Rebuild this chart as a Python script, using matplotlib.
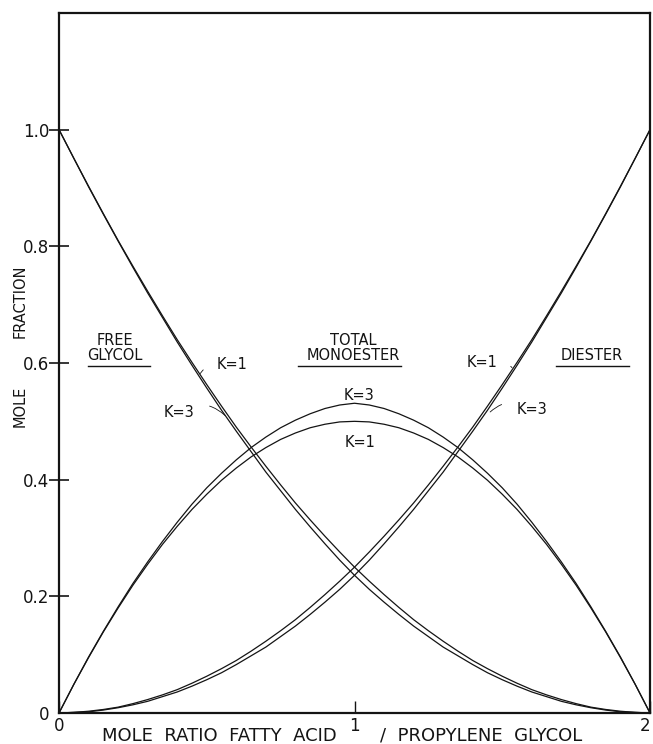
import matplotlib.pyplot as plt

plt.rcParams['font.family'] = ['DejaVu Sans']

# mole ratio fatty acid / propylene glycol
ratio = [0.00, 0.05, 0.10, 0.15, 0.20, 0.25, 0.30, 0.35, 0.40, 0.45,
         0.50, 0.55, 0.60, 0.65, 0.70, 0.75, 0.80, 0.85, 0.90, 0.95,
         1.00, 1.05, 1.10, 1.15, 1.20, 1.25, 1.30, 1.35, 1.40, 1.45,
         1.50, 1.55, 1.60, 1.65, 1.70, 1.75, 1.80, 1.85, 1.90, 1.95, 2.00]

# K = 1
glycol_k1 = [1.000, 0.951, 0.903, 0.856, 0.810, 0.766, 0.723, 0.681, 0.640, 0.601,
             0.563, 0.526, 0.490, 0.456, 0.423, 0.391, 0.360, 0.331, 0.303, 0.276,
             0.250, 0.226, 0.203, 0.181, 0.160, 0.141, 0.123, 0.106, 0.090, 0.076,
             0.063, 0.051, 0.040, 0.031, 0.023, 0.016, 0.010, 0.006, 0.003, 0.001, 0.000]
mono_k1 = [0.000, 0.049, 0.095, 0.139, 0.180, 0.219, 0.255, 0.289, 0.320, 0.349,
           0.375, 0.399, 0.420, 0.439, 0.455, 0.469, 0.480, 0.489, 0.495, 0.499,
           0.500, 0.499, 0.495, 0.489, 0.480, 0.469, 0.455, 0.439, 0.420, 0.399,
           0.375, 0.349, 0.320, 0.289, 0.255, 0.219, 0.180, 0.139, 0.095, 0.049, 0.000]
diester_k1 = [0.000, 0.001, 0.003, 0.006, 0.010, 0.016, 0.023, 0.031, 0.040, 0.051,
              0.063, 0.076, 0.090, 0.106, 0.123, 0.141, 0.160, 0.181, 0.203, 0.226,
              0.250, 0.276, 0.303, 0.331, 0.360, 0.391, 0.423, 0.456, 0.490, 0.526,
              0.563, 0.601, 0.640, 0.681, 0.723, 0.766, 0.810, 0.856, 0.903, 0.951, 1.000]

# K = 3
glycol_k3 = [1.000, 0.951, 0.902, 0.855, 0.809, 0.764, 0.720, 0.678, 0.636, 0.596,
             0.557, 0.519, 0.483, 0.448, 0.413, 0.381, 0.349, 0.319, 0.290, 0.262,
             0.236, 0.212, 0.190, 0.169, 0.149, 0.131, 0.113, 0.098, 0.083, 0.069,
             0.057, 0.046, 0.036, 0.028, 0.020, 0.014, 0.009, 0.005, 0.002, 0.001, 0.000]
mono_k3 = [0.000, 0.049, 0.096, 0.140, 0.182, 0.222, 0.259, 0.294, 0.327, 0.358,
           0.386, 0.411, 0.434, 0.455, 0.473, 0.489, 0.502, 0.513, 0.522, 0.528,
           0.531, 0.528, 0.522, 0.513, 0.502, 0.489, 0.473, 0.455, 0.434, 0.411,
           0.386, 0.358, 0.327, 0.294, 0.259, 0.222, 0.182, 0.140, 0.096, 0.049, 0.000]
diester_k3 = [0.000, 0.001, 0.002, 0.005, 0.009, 0.014, 0.020, 0.028, 0.036, 0.046,
              0.057, 0.069, 0.083, 0.098, 0.113, 0.131, 0.149, 0.169, 0.190, 0.212,
              0.236, 0.262, 0.290, 0.319, 0.349, 0.381, 0.413, 0.448, 0.483, 0.519,
              0.557, 0.596, 0.636, 0.678, 0.720, 0.764, 0.809, 0.855, 0.902, 0.951, 1.000]

y_ticks = [0, 0.2, 0.4, 0.6, 0.8, 1.0]
y_labels = ['0', '0.2', '0.4', '0.6', '0.8', '1.0']
x_ticks = [0, 1, 2]
x_labels = ['0', '1', '2']

INK = '#141414'

fig = plt.figure(figsize=(6.53, 7.44), dpi=100)
ax = fig.add_axes([0.0904, 0.0417, 0.905, 0.9408])

for series in (glycol_k1, glycol_k3, mono_k1, mono_k3, diester_k1, diester_k3):
    ax.plot(ratio, series, color=INK, lw=0.9, solid_capstyle='round')

ax.set_xlim(0, 2)
ax.set_ylim(0, 1.2)
for side in ('left', 'right', 'top', 'bottom'):
    ax.spines[side].set_linewidth(1.6)
    ax.spines[side].set_color(INK)

ax.set_yticks(y_ticks)
ax.set_yticklabels(y_labels)
ax.set_xticks(x_ticks)
ax.set_xticklabels(x_labels)
ax.tick_params(axis='y', direction='inout', length=14, width=1.2, pad=0,
               labelsize=12, colors=INK)
ax.tick_params(axis='x', direction='in', length=9, width=1.0, pad=3,
               labelsize=12, colors=INK)
ax.yaxis.get_major_ticks()[0].tick1line.set_visible(False)
# keep the last ratio label inside the figure edge
ax.get_xticklabels()[-1].set_ha('right')

# axis titles
fig.text(102 / 653, 1 - 736 / 744, 'MOLE  RATIO  FATTY  ACID', fontsize=13,
         ha='left', va='center', color=INK)
fig.text(380 / 653, 1 - 736 / 744, '/  PROPYLENE  GLYCOL', fontsize=13,
         ha='left', va='center', color=INK)
fig.text(20 / 653, 1 - 406 / 744, 'MOLE', fontsize=10.5, rotation=90,
         ha='center', va='center', color=INK)
fig.text(20 / 653, 1 - 301 / 744, 'FRACTION', fontsize=10.5, rotation=90,
         ha='center', va='center', color=INK)

# group headings with underlines
heads = [('FREE\nGLYCOL', 0.19, 0.626, 0.098, 0.308),
         ('TOTAL\nMONOESTER', 0.995, 0.626, 0.809, 1.157),
         ('DIESTER', 1.804, 0.612, 1.682, 1.929)]
for text, hx, hy, u0, u1 in heads:
    ax.text(hx, hy, text, fontsize=10.5, ha='center', va='center',
            linespacing=1.0, color=INK)
    ax.plot([u0, u1], [0.594, 0.594], color=INK, lw=1.0)

# K labels with leaders
leaders = [('K=1', (0.585, 0.597), (0.478, 0.582), 0.4),
           ('K=3', (0.406, 0.515), (0.562, 0.510), -0.4),
           ('K=1', (1.431, 0.600), (1.533, 0.592), -0.4),
           ('K=3', (1.601, 0.520), (1.459, 0.516), 0.4)]
for text, txy, pxy, rad in leaders:
    ax.annotate(text, xy=pxy, xytext=txy, fontsize=10.5, ha='center',
                va='center', color=INK,
                arrowprops=dict(arrowstyle='-', lw=0.6, color=INK,
                                shrinkA=9, shrinkB=0,
                                connectionstyle='arc3,rad=%s' % rad))
ax.text(1.015, 0.545, 'K=3', fontsize=10.5, ha='center', va='center', color=INK)
ax.text(1.019, 0.463, 'K=1', fontsize=10.5, ha='center', va='center', color=INK)

fig.savefig('out.png', dpi=100)
